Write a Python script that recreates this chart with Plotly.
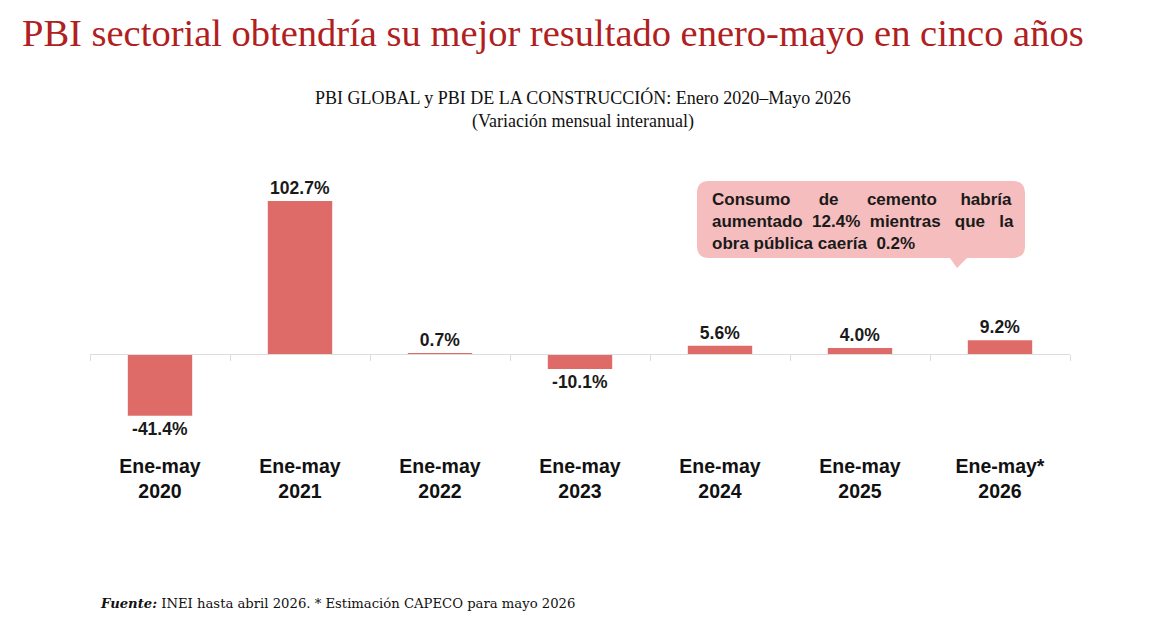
import plotly.graph_objects as go

categories = ["Ene-may<br>2020", "Ene-may<br>2021", "Ene-may<br>2022", "Ene-may<br>2023",
              "Ene-may<br>2024", "Ene-may<br>2025", "Ene-may*<br>2026"]
values = [-41.4, 102.7, 0.7, -10.1, 5.6, 4.0, 9.2]

title_text = "PBI sectorial obtendría su mejor resultado enero-mayo en cinco años"
subtitle_text = "PBI GLOBAL y PBI DE LA CONSTRUCCIÓN: Enero 2020–Mayo 2026<br>(Variación mensual interanual)"
callout_lines = ["Consumo" + "\u00a0" * 6 + "de" + "\u00a0" * 6 + "cemento" + "\u00a0" * 5 + "habría",
                 "aumentado\u00a0\u00a012.4%\u00a0\u00a0mientras\u00a0\u00a0\u00a0que\u00a0\u00a0\u00a0la",
                 "obra\u00a0pública\u00a0caería\u00a0\u00a00.2%"]
footer_text = "<b><i>Fuente:</i></b> INEI hasta abril 2026. * Estimación CAPECO para mayo 2026"

W, H = 1156, 642
L, R, T, B = 90, 1070, 150, 440
Y_MIN, Y_MAX = -57.7, 136.9
BAR_COLOR = "#DF6B69"


def px(x):
    return (x - L) / (R - L)


def py(y):
    return (B - y) / (B - T)


zero_pos = (0 - Y_MIN) / (Y_MAX - Y_MIN)

fig = go.Figure()
fig.add_trace(go.Bar(
    x=categories, y=values, marker_color=BAR_COLOR, marker_line_width=0,
    texttemplate="%{y:.1f}%", textposition="outside", cliponaxis=False,
    constraintext="none",
    textfont=dict(family="Liberation Sans, Arial", size=17.5, color="#1a1a1a", weight="bold"),
    hoverinfo="skip", showlegend=False,
))
fig.add_trace(go.Scatter(
    x=categories, y=values, xaxis="x2", mode="markers", marker_opacity=0,
    hoverinfo="skip", showlegend=False,
))

# callout box with pointer (rounded rectangle)
x0, x1, y0, y1, r = 697, 1025, 181, 258, 12
pts = [
    f"M {px(x0 + r)} {py(y0)}", f"L {px(x1 - r)} {py(y0)}",
    f"Q {px(x1)} {py(y0)} {px(x1)} {py(y0 + r)}",
    f"L {px(x1)} {py(y1 - r)}", f"Q {px(x1)} {py(y1)} {px(x1 - r)} {py(y1)}",
    f"L {px(967)} {py(y1)}", f"L {px(957)} {py(268)}", f"L {px(950)} {py(y1)}",
    f"L {px(x0 + r)} {py(y1)}", f"Q {px(x0)} {py(y1)} {px(x0)} {py(y1 - r)}",
    f"L {px(x0)} {py(y0 + r)}", f"Q {px(x0)} {py(y0)} {px(x0 + r)} {py(y0)}", "Z",
]
fig.add_shape(type="path", path=" ".join(pts), xref="paper", yref="paper",
              fillcolor="#F5BDBD", line_width=0, layer="below")

fig.add_annotation(text="<br>".join(callout_lines), xref="paper", yref="paper",
                   x=px(710), y=py(221), xanchor="left", yanchor="middle", align="left",
                   showarrow=False,
                   font=dict(family="Liberation Sans, Arial", size=17, color="#1a1a1a", weight="bold"))

fig.add_annotation(text=title_text, xref="paper", yref="paper", x=px(20), y=py(33),
                   xanchor="left", yanchor="middle", showarrow=False,
                   font=dict(family="Liberation Serif, Times New Roman, serif", size=38.5, color="#B0201E"))
fig.add_annotation(text=subtitle_text, xref="paper", yref="paper", x=px(583), y=py(109),
                   xanchor="center", yanchor="middle", showarrow=False, align="center",
                   font=dict(family="Liberation Serif, Times New Roman, serif", size=18, color="#111111"))
fig.add_annotation(text=footer_text, xref="paper", yref="paper", x=px(98), y=py(603),
                   xanchor="left", yanchor="middle", showarrow=False,
                   font=dict(family="DejaVu Serif, serif", size=13.2, color="#111111"))

fig.update_layout(
    width=W, height=H, margin=dict(l=L, r=W - R, t=T, b=H - B),
    paper_bgcolor="white", plot_bgcolor="white", bargap=0.54,
    xaxis=dict(type="category", anchor="free", position=zero_pos, showticklabels=False,
               ticks="outside", tickson="boundaries", ticklen=6, tickcolor="#dddddd",
               showline=True, linecolor="#dddddd", linewidth=1, showgrid=False, zeroline=False,
               fixedrange=True),
    xaxis2=dict(type="category", overlaying="x", matches="x", anchor="y", side="bottom",
                showline=False, ticks="", showgrid=False, ticklabelstandoff=12,
                tickfont=dict(family="Liberation Sans, Arial", size=19.5, color="#111111", weight="bold")),
    yaxis=dict(range=[Y_MIN, Y_MAX], visible=False, showgrid=False, zeroline=False),
)

fig.write_html("out.html")
